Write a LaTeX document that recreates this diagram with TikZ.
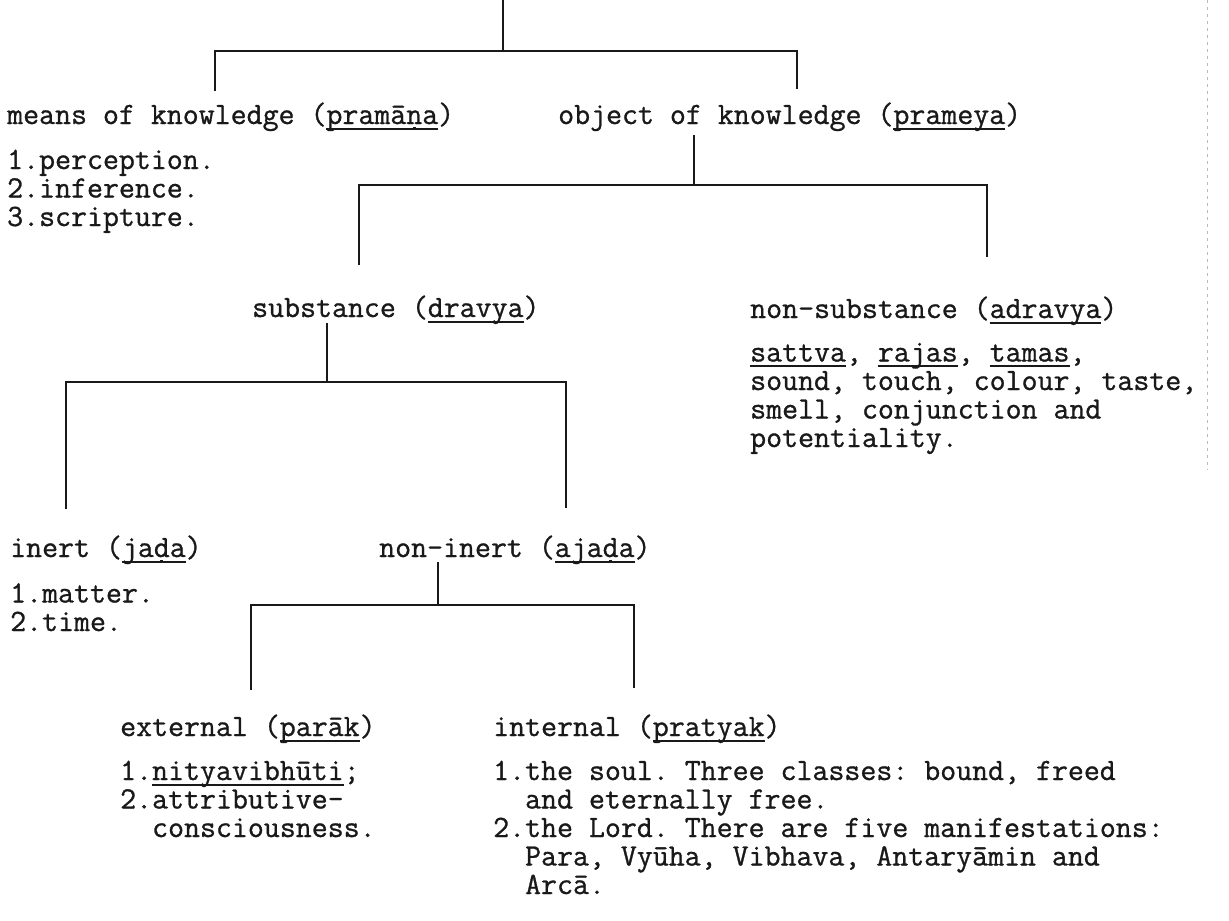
\documentclass[tikz,border=0pt]{standalone}
\usepackage{fontspec}
\setmonofont{Latin Modern Mono}[FakeBold=0.9]
\usetikzlibrary{calc}
\newcommand\ul[1]{\setbox0\hbox{#1}\rlap{\rule[-0.19em]{\wd0}{0.075em}}\box0}
\newcommand\dotu[1]{\ooalign{#1\cr\hidewidth\raisebox{-0.2em}{\rule{0.09em}{0.09em}}\hidewidth\cr}}
\begin{document}
\begin{tikzpicture}[x=1pt,y=-1pt,
  tree/.style={line width=2.7pt, draw=black!90},
  lbl/.style={font=\ttfamily\fontsize{31}{28.5}\selectfont\frenchspacing, inner sep=0pt, anchor=base west, align=left, text=black!90},
  lst/.style={lbl, font=\ttfamily\fontsize{31}{28.5}\selectfont\frenchspacing}]
\useasboundingbox[fill=white] (0,0) rectangle (1229,921);

% labels (multi-line nodes are placed by the baseline of their last line)
\node[lbl] (means) at (7,124) {means of knowledge (\ul{pramā\dotu{n}a})};
\node[lbl] (object) at (558,124) {object of knowledge (\ul{prameya})};
\node[lst] (meanslist) at (7,226) {1.perception.\\2.inference.\\3.scripture.};
\node[lbl] (subst) at (252,317) {substance (\ul{dravya})};
\node[lbl] (nonsub) at (750,318) {non-substance (\ul{adravya})};
\node[lst] (nonsublist) at (750,447) {\ul{sattva}, \ul{rajas}, \ul{tamas},\\sound, touch, colour, taste,\\smell, conjunction and\\potentiality.};
\node[lbl] (inert) at (10,557) {inert (\ul{ja\dotu{d}a})};
\node[lbl] (noninert) at (379,557) {non-inert (\ul{aja\dotu{d}a})};
\node[lst] (inertlist) at (10,631) {1.matter.\\2.time.};
\node[lbl] (ext) at (120,736) {external (\ul{parāk})};
\node[lst] (extlist) at (120,837) {1.\ul{nityavibhūti};\\2.attributive-\\\phantom{2.}consciousness.};
\node[lbl] (int) at (493,736) {internal (\ul{pratyak})};
\node[lst] (intlist) at (493,894) {1.the soul. Three classes: bound, freed\\\phantom{1.}and eternally free.\\2.the Lord. There are five manifestations:\\\phantom{2.}Para, Vyūha, Vibhava, Antaryāmin and\\\phantom{2.}Arcā.};

% bracket 0: root -> means / object
\coordinate (root) at (503,0);
\coordinate (j0) at (503,51);
\coordinate (means-top) at (215,91);
\coordinate (object-top) at (797,89);
\draw[tree] (root) -- (j0);
\draw[tree] (means-top) -- (means-top |- j0) -- (object-top |- j0) -- (object-top);

% bracket 1: object -> substance / non-substance
\coordinate (object-stem) at (694,135);
\coordinate (j1) at (694,185);
\coordinate (subst-top) at (359,265);
\coordinate (nonsub-top) at (987,257);
\draw[tree] (object-stem) -- (j1);
\draw[tree] (subst-top) -- (subst-top |- j1) -- (nonsub-top |- j1) -- (nonsub-top);

% bracket 2: substance -> inert / non-inert
\coordinate (subst-stem) at (327,323);
\coordinate (j2) at (327,382);
\coordinate (inert-top) at (66,509);
\coordinate (noninert-top) at (566,508);
\draw[tree] (subst-stem) -- (j2);
\draw[tree] (inert-top) -- (inert-top |- j2) -- (noninert-top |- j2) -- (noninert-top);

% bracket 3: non-inert -> external / internal
\coordinate (noninert-stem) at (438,562);
\coordinate (j3) at (438,605);
\coordinate (ext-top) at (251,690);
\coordinate (int-top) at (634,688);
\draw[tree] (noninert-stem) -- (j3);
\draw[tree] (ext-top) -- (ext-top |- j3) -- (int-top |- j3) -- (int-top);

% faint page-margin line of the scan
\coordinate (margin-a) at (1207,0);
\coordinate (margin-b) at (1207,470);
\draw[gray!55, line width=0.7pt, dash pattern=on 3pt off 4pt] (margin-a) -- (margin-b);
\end{tikzpicture}
\end{document}
